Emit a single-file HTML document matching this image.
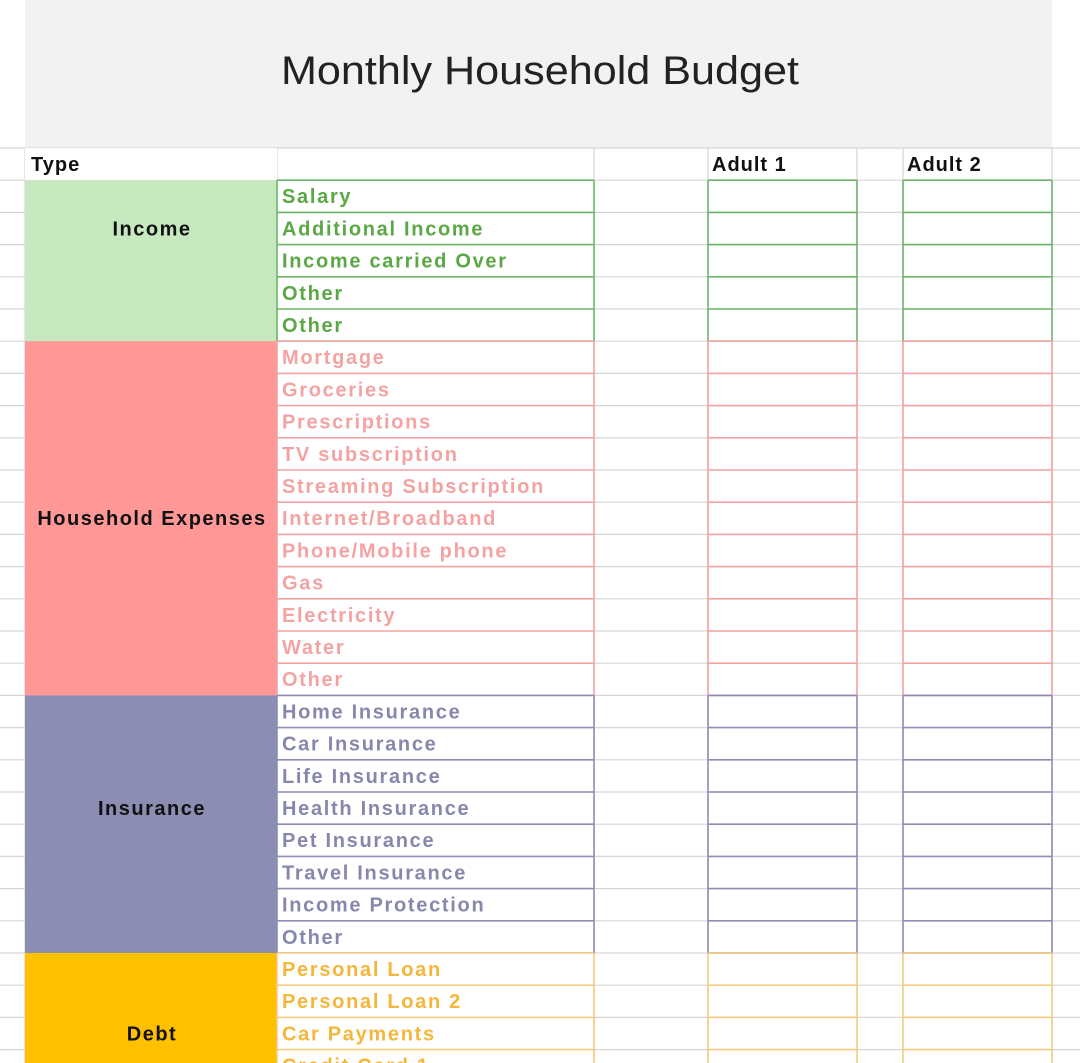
<!DOCTYPE html>
<html><head><meta charset="utf-8"><style>
html,body{margin:0;padding:0;background:#fff;width:1080px;height:1063px;overflow:hidden}
svg{display:block}
text{font-family:"Liberation Sans",sans-serif}
</style></head><body>
<svg id="s" width="1080" height="1063" xmlns="http://www.w3.org/2000/svg"></svg>
<script>
const s=document.getElementById('s');
let h='';
const H=32.2, T=148;
const y=i=>T+i*H;
h+='<rect x="25" y="0" width="1027" height="148" fill="#f2f2f2"/>';
h+='<text x="540" y="84" font-size="40" text-anchor="middle" fill="#222" textLength="518" lengthAdjust="spacingAndGlyphs">Monthly Household Budget</text>';
for(let i=0;i<=29;i++){h+=`<line x1="0" x2="1080" y1="${y(i)}" y2="${y(i)}" stroke="#d6d6d6" stroke-width="1.2"/>`;}
[25,277,594,708,857,903,1052].forEach(x=>{h+=`<line x1="${x}" x2="${x}" y1="148" y2="1063" stroke="#d6d6d6" stroke-width="1.2"/>`;});
h+='<rect x="25" y="148" width="252" height="32" fill="#fff"/>';
h+='<text x="31" y="171" font-size="20" font-weight="bold" fill="#111" letter-spacing="1">Type</text>';
h+='<text x="712" y="171" font-size="20" font-weight="bold" fill="#111" letter-spacing="1">Adult 1</text>';
h+='<text x="907" y="171" font-size="20" font-weight="bold" fill="#111" letter-spacing="1">Adult 2</text>';
const secs=[
 ['Income','#c6e9c0','#5aa845','#6bb56b',['Salary','Additional Income','Income carried Over','Other','Other']],
 ['Household Expenses','#ff9896','#f4a3a3','#f4a3a3',['Mortgage','Groceries','Prescriptions','TV subscription','Streaming Subscription','Internet/Broadband','Phone/Mobile phone','Gas','Electricity','Water','Other']],
 ['Insurance','#8c8db2','#8787ae','#8c8db2',['Home Insurance','Car Insurance','Life Insurance','Health Insurance','Pet Insurance','Travel Insurance','Income Protection','Other']],
 ['Debt','#ffc000','#f5b63a','#f7ca80',['Personal Loan','Personal Loan 2','Car Payments','Credit Card 1','Credit Card 2']]
];
let r=1;
secs.forEach(([name,fill,tc,bc,items])=>{
 const y0=y(r), y1=y(r+items.length);
 h+=`<rect x="25" y="${y0}" width="252" height="${y1-y0}" fill="${fill}"/>`;
 let ty=y(r+1)+23;
 if(name==='Debt') ty=y(r+2)+23;
 if(name==='Household Expenses') ty=y(r+5)+23;
 if(name==='Insurance') ty=y(r+3)+23;
 h+=`<text x="152" y="${ty}" font-size="20" font-weight="bold" fill="#111" text-anchor="middle" letter-spacing="1.5">${name}</text>`;
 items.forEach((it,k)=>{
  const yy=y(r+k);
  h+=`<rect x="277" y="${yy}" width="317" height="${H}" fill="#fff"/>`;
  h+=`<text x="282" y="${yy+23}" font-size="20" font-weight="bold" fill="${tc}" letter-spacing="1.7">${it}</text>`;
 });
 [[277,594],[708,857],[903,1052]].forEach(([a,b])=>{
  for(let k=0;k<=items.length;k++){const yy=y(r+k);h+=`<line x1="${a}" x2="${b}" y1="${yy}" y2="${yy}" stroke="${bc}" stroke-width="1.6"/>`;}
  h+=`<line x1="${a}" x2="${a}" y1="${y0}" y2="${y1}" stroke="${bc}" stroke-width="1.6"/>`;
  h+=`<line x1="${b}" x2="${b}" y1="${y0}" y2="${y1}" stroke="${bc}" stroke-width="1.6"/>`;
 });
 r+=items.length;
});
s.innerHTML=h;
</script>
</body></html>
